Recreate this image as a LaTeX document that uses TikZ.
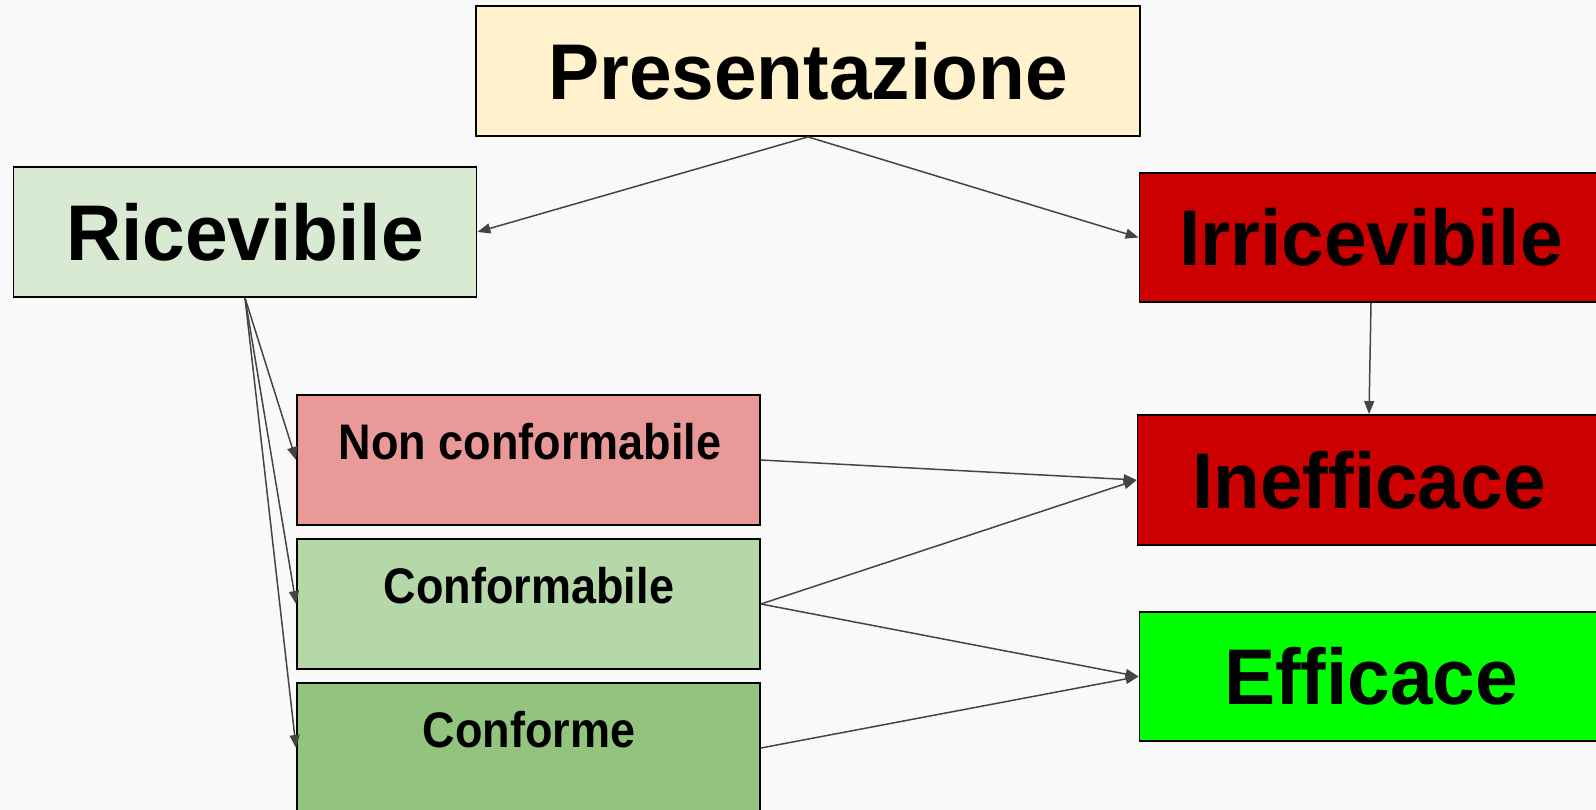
\documentclass[tikz,border=0pt]{standalone}
\usepackage{fontspec}
\usepackage{graphicx}
\setmainfont{Liberation Sans}
\usetikzlibrary{arrows.meta}
\definecolor{bgc}{HTML}{F9F9F9}
\definecolor{presc}{HTML}{FFF2CC}
\definecolor{ricc}{HTML}{D9EAD3}
\definecolor{redc}{HTML}{CC0000}
\definecolor{ncc}{HTML}{EA9999}
\definecolor{cfc}{HTML}{B6D7A8}
\definecolor{cfmc}{HTML}{93C47D}
\definecolor{effc}{HTML}{00FF00}
\definecolor{arrc}{HTML}{444444}
\newcommand{\bigtxt}[1]{\scalebox{0.97}[1]{\fontsize{79}{80}\selectfont\bfseries #1}}
\newcommand{\smalltxt}[1]{\scalebox{0.9}[1]{\fontsize{50}{52}\selectfont\bfseries #1}}
\tikzset{
  box/.style={draw=black, line width=1.8pt, rectangle, inner sep=0pt, minimum height=130pt, minimum width=463pt, text=black},
  conn/.style={draw=arrc, line width=1.5pt, -{Triangle[length=13pt,width=10pt]}},
}
\begin{document}
\begin{tikzpicture}[x=1pt,y=-1pt]
\fill[bgc] (0,0) rectangle (1596,810);
\useasboundingbox (0,0) rectangle (1596,810);
\clip (0,0) rectangle (1596,810);
\node[box, fill=presc, minimum width=664pt] (pres) at (808,71) {\bigtxt{Presentazione}};
\node[box, fill=ricc] (ric) at (245,232) {\bigtxt{Ricevibile}};
\node[box, fill=redc, minimum height=129pt] (irr) at (1371,237.5) {\bigtxt{Irricevibile}};
\node[box, fill=redc] (inef) at (1369,480) {\bigtxt{Inefficace}};
\node[box, fill=effc, minimum height=129pt] (eff) at (1371,676.5) {\bigtxt{Efficace}};
\node[box, fill=ncc] (nc) at (528.5,460) {};
\node[box, fill=cfc] (cf) at (528.5,604) {};
\node[box, fill=cfmc] (cfm) at (528.5,748) {};
\node (nct) at (530,442) {\smalltxt{Non conformabile}};
\node (cft) at (529,586) {\smalltxt{Conformabile}};
\node (cfmt) at (529,730) {\smalltxt{Conforme}};
\draw[conn] (pres.south) -- (ric.east);
\draw[conn] (pres.south) -- (irr.west);
\draw[conn] (ric.south) -- (nc.west);
\draw[conn] (ric.south) -- (cf.west);
\draw[conn] (ric.south) -- (cfm.west);
\draw[conn] (irr.south) -- (inef.north);
\draw[conn] (nc.east) -- (inef.west);
\draw[conn] (cf.east) -- (inef.west);
\draw[conn] (cf.east) -- (eff.west);
\draw[conn] (cfm.east) -- (eff.west);
\end{tikzpicture}
\end{document}
